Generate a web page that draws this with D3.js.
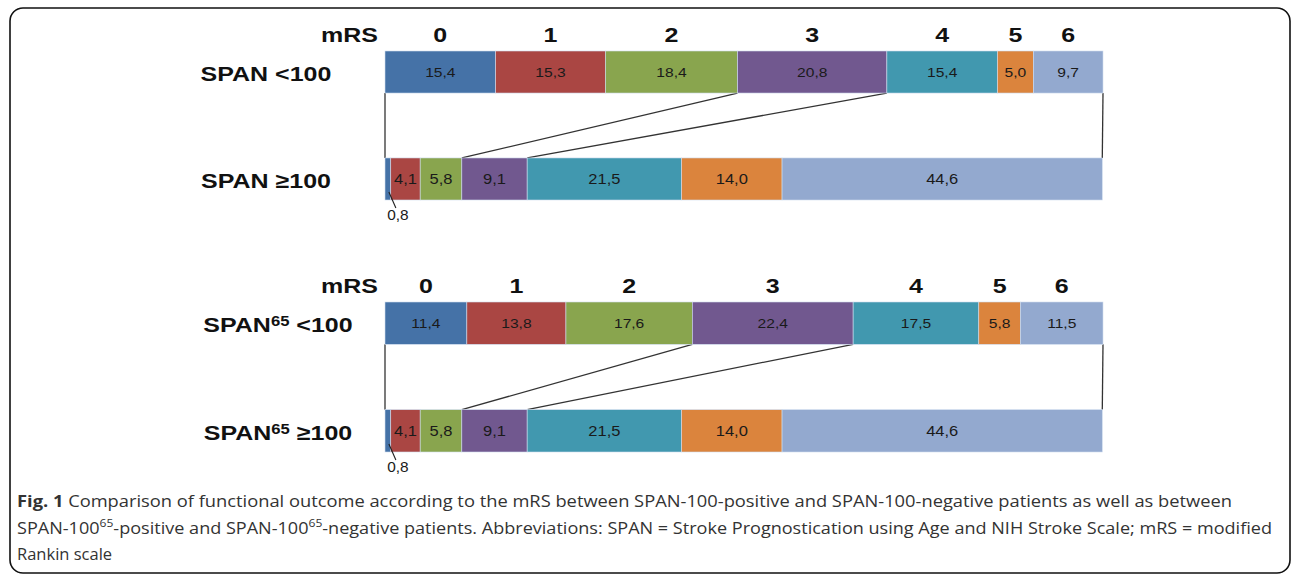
<!DOCTYPE html>
<html>
<head>
<meta charset="utf-8">
<script src="https://cdn.jsdelivr.net/npm/d3@7/dist/d3.min.js"></script>
<style>
  body { margin: 0; background: #fff; }
  svg { display: block; }
</style>
</head>
<body>
<div class="chart"></div>
<script>
// mRS categories and colours
var mrsLevels = ["0", "1", "2", "3", "4", "5", "6"];
var mrsColors = ["#4572a7", "#aa4643", "#89a54e", "#71588f", "#4198af", "#db843d", "#93a9cf"];

// percentages per row
var span100Neg = [15.4, 15.3, 18.4, 20.8, 15.4, 5.0, 9.7];
var span100Pos = [0.8, 4.1, 5.8, 9.1, 21.5, 14.0, 44.6];
var span65Neg = [11.4, 13.8, 17.6, 22.4, 17.5, 5.8, 11.5];
var span65Pos = [0.8, 4.1, 5.8, 9.1, 21.5, 14.0, 44.6];

// boundaries (number of segments before it) joined between the two rows
var linkedBounds = [0, 3, 4, 7];

var caption = [
    [["b", "Fig. 1"], ["", " Comparison of functional outcome according to the mRS between SPAN-100-positive and SPAN-100-negative patients as well as between"]],
    [["", "SPAN-100"], ["sup", "65"], ["", "-positive and SPAN-100"], ["sup", "65"], ["", "-negative patients. Abbreviations: SPAN = Stroke Prognostication using Age and NIH Stroke Scale; mRS = modified"]],
    [["", "Rankin scale"]]
];

var W = 1292, H = 576;
var fmt = d3.formatLocale({decimal: ",", thousands: ".", grouping: [3], currency: ["", ""]}).format(".1f");

var svg = d3.select(".chart").append("svg")
    .attr("width", W)
    .attr("height", H);

svg.append("rect")
    .attr("x", 10).attr("y", 8)
    .attr("width", 1280).attr("height", 565)
    .attr("rx", 13)
    .attr("fill", "none")
    .attr("stroke", "#111")
    .attr("stroke-width", 1.6);

var x = d3.scaleLinear()
    .domain([0, 100])
    .range([385, 1103]);

var panels = [
    {rows: [{name: "SPAN", sup: "", rest: " <100", values: span100Neg}, {name: "SPAN", sup: "", rest: " ≥100", values: span100Pos}],
     y: [51, 200], labelX: 266},
    {rows: [{name: "SPAN", sup: "65", rest: " <100", values: span65Neg}, {name: "SPAN", sup: "65", rest: " ≥100", values: span65Pos}],
     y: [302, 452], labelX: 278}
];

function stack(values) {
    var acc = 0;
    return values.map(function(v, i) {
        var d = {i: i, v: v, x0: acc, x1: acc + v};
        acc += v;
        return d;
    });
}

function stretched(g, px, py, sx) {
    return g.append("text")
        .attr("transform", "translate(" + px + "," + py + ") scale(" + sx + ",1)");
}

panels.forEach(function(p) {
    var y = d3.scaleBand()
        .domain([0, 1])
        .range(p.y)
        .paddingInner(0.607);

    var g = svg.append("g");
    var top = stack(p.rows[0].values);
    var bot = stack(p.rows[1].values);

    // header: mRS + category numbers over top row
    stretched(g, 378, y(0) - 9, 1.19)
        .attr("text-anchor", "end")
        .attr("font-family", "Liberation Sans, Arial, sans-serif")
        .attr("font-weight", "bold")
        .attr("font-size", 21)
        .attr("fill", "#111")
        .text("mRS");

    top.forEach(function(d) {
        stretched(g, x((d.x0 + d.x1) / 2), y(0) - 9, 1.19)
            .attr("text-anchor", "middle")
            .attr("font-family", "Liberation Sans, Arial, sans-serif")
            .attr("font-weight", "bold")
            .attr("font-size", 21)
            .attr("fill", "#111")
            .text(mrsLevels[d.i]);
    });

    // connector lines
    linkedBounds.forEach(function(k) {
        var xt = k === 0 ? 0 : top[k - 1].x1;
        var xb = k === 0 ? 0 : bot[k - 1].x1;
        g.append("line")
            .attr("x1", x(xt)).attr("y1", y(0) + y.bandwidth())
            .attr("x2", x(xb)).attr("y2", y(1))
            .attr("stroke", "#333")
            .attr("stroke-width", 1.3);
    });

    [top, bot].forEach(function(segs, r) {
        var row = p.rows[r];
        var fs = r === 0 ? 13 : 15;
        var sx = r === 0 ? 1.2 : 1.1;

        g.selectAll(".seg" + r)
            .data(segs)
            .enter()
            .append("rect")
            .attr("x", function(d) { return x(d.x0); })
            .attr("y", y(r))
            .attr("width", function(d) { return x(d.x1) - x(d.x0); })
            .attr("height", y.bandwidth())
            .attr("fill", function(d) { return mrsColors[d.i]; })
            .attr("stroke", "#cfdcee")
            .attr("stroke-width", 0.6);

        segs.forEach(function(d) {
            var cx = x((d.x0 + d.x1) / 2);
            if (d.v < 2) {
                // small segment: label below with leader
                g.append("line")
                    .attr("x1", cx + 1).attr("y1", y(r) + y.bandwidth() - 8)
                    .attr("x2", cx + 8).attr("y2", y(r) + y.bandwidth() + 8)
                    .attr("stroke", "#222")
                    .attr("stroke-width", 1.1);
                stretched(g, cx + 10, y(r) + y.bandwidth() + 20, 1.1)
                    .attr("text-anchor", "middle")
                    .attr("font-family", "Liberation Sans, Arial, sans-serif")
                    .attr("font-size", 14)
                    .attr("fill", "#1a1a1a")
                    .text(fmt(d.v));
                return;
            }
            stretched(g, cx, y(r) + y.bandwidth() / 2 + fs * 0.36, sx)
                .attr("text-anchor", "middle")
                .attr("font-family", "Liberation Sans, Arial, sans-serif")
                .attr("font-size", fs)
                .attr("fill", "#1a1a1a")
                .text(fmt(d.v));
        });

        // row label
        var t = stretched(g, p.labelX, y(r) + y.bandwidth() / 2 + 9, 1.19)
            .attr("text-anchor", "middle")
            .attr("font-family", "Liberation Sans, Arial, sans-serif")
            .attr("font-weight", "bold")
            .attr("font-size", 21)
            .attr("fill", "#111");
        t.append("tspan").text(row.name);
        if (row.sup) {
            t.append("tspan").attr("font-size", 14).attr("dy", -6).text(row.sup);
            t.append("tspan").attr("dy", 6).text(row.rest);
        } else {
            t.append("tspan").text(row.rest);
        }
    });
});

// caption
var lineLen = [1215, 1255, null];
caption.forEach(function(parts, li) {
    var t = svg.append("text")
        .attr("x", 17)
        .attr("y", 507 + li * 26.5)
        .attr("font-family", "Open Sans, Noto Sans, sans-serif")
        .attr("font-size", 16.5)
        .attr("fill", "#333");
    if (lineLen[li]) t.attr("textLength", lineLen[li]).attr("lengthAdjust", "spacingAndGlyphs");
    var raised = false;
    parts.forEach(function(pt) {
        var s = t.append("tspan").text(pt[1]);
        if (pt[0] === "b") s.attr("font-weight", "bold");
        if (pt[0] === "sup") {
            s.attr("font-size", 11).attr("dy", -7);
            raised = true;
        } else if (raised) {
            s.attr("dy", 7);
            raised = false;
        }
    });
});
</script>
</body>
</html>
